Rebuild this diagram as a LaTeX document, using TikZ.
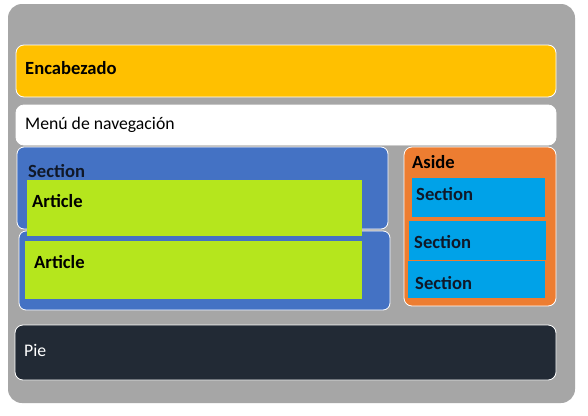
\documentclass[tikz,border=0pt]{standalone}
\usepackage{fontspec}
\setmainfont{Carlito}
\usetikzlibrary{fit}
\definecolor{bggray}{HTML}{A6A6A6}
\definecolor{gold}{HTML}{FFC000}
\definecolor{secblue}{HTML}{4472C4}
\definecolor{artgreen}{HTML}{B5E61D}
\definecolor{asideorange}{HTML}{ED7D31}
\definecolor{seccyan}{HTML}{00A2E8}
\definecolor{piedark}{HTML}{222A35}
\definecolor{txtdark}{HTML}{101828}
\tikzset{
  box/.style={draw=white, line width=0.8pt, rounded corners=8pt, inner sep=0pt},
  flatbox/.style={inner sep=0pt, draw=none},
  lbl/.style={anchor=base west, inner sep=0pt, font=\fontsize{18.6}{20}\selectfont\bfseries, text=txtdark},
  lblreg/.style={anchor=base west, inner sep=0pt, font=\fontsize{17.7}{20}\selectfont},
}
\begin{document}
\begin{tikzpicture}[x=1pt,y=-1pt]
\useasboundingbox (0,0) rectangle (588,415);
\fill[white] (0,0) rectangle (588,415);
\node[flatbox, fill=bggray, rounded corners=14pt, fit={(8,4) (575,403)}] (bg) {};
% header
\node[box, fill=gold, fit={(16,45) (556,97)}] (enc) {};
\node[lbl, text=black] (enct) at (25,74) {Encabezado};
% nav
\node[box, fill=white, fit={(16,105) (556,145)}] (nav) {};
\node[lblreg] (navt) at (25,129) {Menú de navegación};
% section
\node[box, fill=secblue, rounded corners=7pt, fit={(17,147) (388,229)}] (sec1) {};
\node[box, fill=secblue, rounded corners=7pt, fit={(19,231) (390,310)}] (sec2) {};
\node[flatbox, fill=artgreen, fit={(27,180) (362,236)}] (art1) {};
\node[flatbox, fill=artgreen, fit={(25,241) (362,299)}] (art2) {};
\node[lbl] (sect) at (28,177) {Section};
\node[lbl, text=black] (art1t) at (32,207) {Article};
\node[lbl, text=black] (art2t) at (34,268) {Article};
% aside
\node[box, fill=asideorange, fit={(404,147) (556,306)}] (aside) {};
\node[lbl, text=black] (asidet) at (412,168) {Aside};
\node[flatbox, fill=seccyan, fit={(412,178) (545,217)}] (as1) {};
\node[flatbox, fill=seccyan, fit={(409,221) (546,260)}] (as2) {};
\node[flatbox, fill=seccyan, fit={(408,261) (545,298)}] (as3) {};
\node[lbl] (as1t) at (416,200) {Section};
\node[lbl] (as2t) at (414,248) {Section};
\node[lbl] (as3t) at (415,289) {Section};
% footer
\node[box, fill=piedark, fit={(15,325) (556,380)}] (pie) {};
\node[lblreg, text=white] (piet) at (24,356) {Pie};
\end{tikzpicture}
\end{document}
